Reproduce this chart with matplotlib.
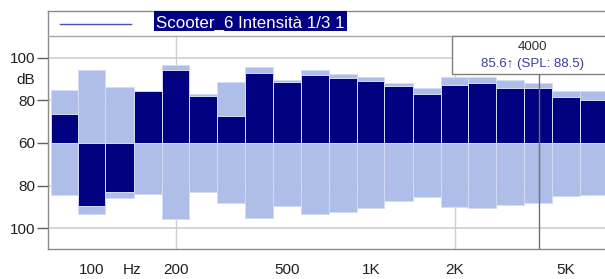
import numpy as np
import matplotlib
matplotlib.use('agg')
import matplotlib.pyplot as plt
from matplotlib.patches import Rectangle
from matplotlib.ticker import FixedLocator, NullFormatter

plt.rcParams['font.family'] = ['Liberation Sans', 'DejaVu Sans']

# 1/3 octave bands (Hz)
bands = [80, 100, 125, 160, 200, 250, 315, 400, 500, 630,
         800, 1000, 1250, 1600, 2000, 2500, 3150, 4000, 5000, 6300]
# upper channel: peak (light) and level (dark), dB
top_peak = [84.8, 94.1, 86.2, 84.6, 96.7, 83.2, 88.5, 95.6, 89.8, 94.1,
            92.3, 90.8, 88.1, 85.8, 90.9, 91.0, 89.6, 88.4, 84.6, 84.3]
top_level = [73.6, 60.0, 60.0, 84.4, 94.5, 82.1, 72.8, 92.9, 88.7, 92.0,
             90.4, 89.3, 87.0, 83.2, 87.1, 88.4, 86.0, 85.6, 81.5, 80.2]
# lower channel (drawn mirrored)
bottom_peak = [84.5, 93.4, 85.8, 83.9, 95.7, 83.1, 88.4, 95.4, 89.5, 93.4,
               92.2, 90.6, 87.3, 85.5, 90.3, 90.6, 89.2, 88.4, 84.7, 84.4]
bottom_level = [60.0, 89.8, 82.8, 60.0, 60.0, 60.0, 60.0, 60.0, 60.0, 60.0,
                60.0, 60.0, 60.0, 60.0, 60.0, 60.0, 60.0, 60.0, 60.0, 60.0]

ytick_vals = [100, 80, 60, 80, 100]
xtick_freqs = [100, 140, 200, 500, 1000, 2000, 5000]
xtick_labels = ['100', 'Hz', '200', '500', '1K', '2K', '5K']
cursor_freq = 4000
cursor_text = '85.6\u2191 (SPL: 88.5)'
title = 'Scooter_6 Intensit\u00e0 1/3 1'

floor = 60.0
navy = '#000080'
light = '#aabbe8'

f = np.array(bands, float)
mids = np.sqrt(f[:-1] * f[1:])
left = np.r_[f[0] ** 2 / mids[0], mids]
right = np.r_[mids, f[-1] ** 2 / mids[-1]]
widths = right - left

def h(v):
    return np.clip(np.array(v) - floor, 0, None)

W, H = 605, 279
fig = plt.figure(figsize=(W / 100, H / 100), dpi=100)
# axes runs a little past the right edge of the image, like the original
ax = fig.add_axes([48 / W, 1 - 249 / H, (625 - 48) / W, (249 - 11) / H])
ax.set_xscale('log')
ymin, ymax, ysep = -49.8, 62, 50.2

# grid
ax.vlines([200, 2000], ymin, ysep, color='#d0d0d0', lw=1, zorder=0)
for y in [40, 20, -20, -40]:
    ax.axhline(y, color='#d0d0d0', lw=1.2, zorder=0)
ax.axhline(ysep, color='#a8a8a8', lw=1, zorder=3)

kw = dict(align='edge', edgecolor='#d4dcf4', linewidth=0.7)
ax.bar(left, h(top_peak), widths, color=light, alpha=0.95, zorder=1, **kw)
ax.bar(left, h(top_level), widths, color=navy, zorder=2, **kw)
ax.bar(left, -h(bottom_peak), widths, color=light, alpha=0.95, zorder=1, **kw)
ax.bar(left, -h(bottom_level), widths, color=navy, zorder=2, **kw)

ax.set_xlim(69.7, 8154)
ax.set_ylim(ymin, ymax)

ax.set_yticks([40, 20, 0, -20, -40])
ax.set_yticklabels([str(v) for v in ytick_vals])
ax.tick_params(axis='y', length=8, width=1, color='#606060', labelsize=11,
               pad=1, labelcolor='#202020')
ax.xaxis.set_major_locator(FixedLocator(xtick_freqs))
ax.set_xticklabels(xtick_labels)
ax.xaxis.set_minor_locator(FixedLocator([200, 2000]))
ax.xaxis.set_minor_formatter(NullFormatter())
ax.tick_params(axis='x', which='major', length=0, labelsize=11, pad=10,
               labelcolor='#202020')
ax.tick_params(axis='x', which='minor', length=8, width=1.2, color='#505050')

for s in ['left', 'bottom', 'top']:
    ax.spines[s].set_color('#8a8a8a')
    ax.spines[s].set_linewidth(1)
ax.spines['right'].set_visible(False)

# cursor readout
ax.add_patch(Rectangle((1955, 32.3), 20000, ysep - 32.3, facecolor='white',
                       edgecolor='#808080', lw=1, zorder=5))
ax.vlines(cursor_freq, ymin, 32.3, color='#707070', lw=1, zorder=6)
ax.text(3785, 45, str(cursor_freq), ha='center', va='center', fontsize=9.5,
        color='#303030', zorder=7)
ax.text(3785, 37.3, cursor_text, ha='center', va='center', fontsize=9.5,
        color='#3c3c96', zorder=7)

# legend strip
ax.plot([76.9, 138.4], [55.9, 55.9], color='#4050c8', lw=1, clip_on=False)
fig.add_artist(Rectangle((154 / W, 1 - 31 / H), (347 - 154) / W, 20 / H,
                         transform=fig.transFigure, facecolor=navy, lw=0))
fig.text(156 / W, 1 - 27.5 / H, title, color='white', fontsize=12.2,
         ha='left', va='baseline')
fig.text(26 / W, 1 - 80 / H, 'dB', fontsize=11, ha='center', va='center',
         color='#202020')

fig.savefig('out.png', dpi=100)
plt.close(fig)
